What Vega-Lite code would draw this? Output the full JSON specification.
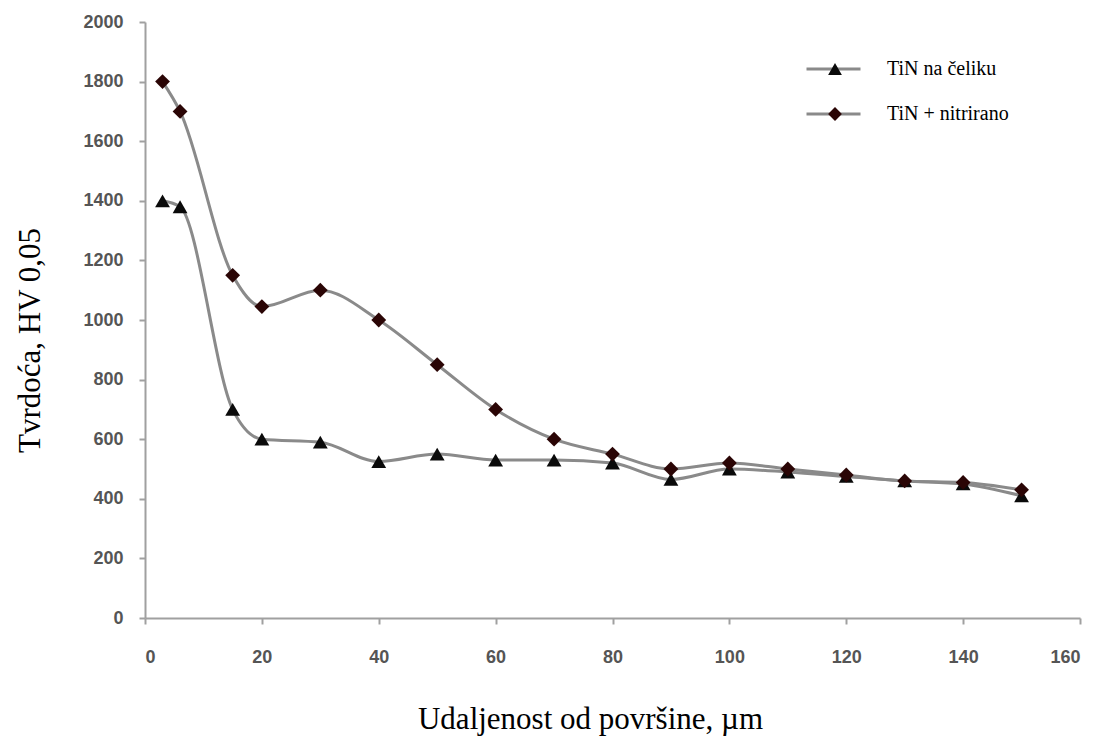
{
  "$schema": "https://vega.github.io/schema/vega-lite/v6.json",
  "width": 935,
  "height": 596,
  "autosize": {"type": "none"},
  "padding": {"left": 145, "top": 22, "right": 24, "bottom": 120},
  "background": "white",
  "config": {"view": {"stroke": null}},
  "data": {"values": [
    {"x": 3, "y": 1400, "s": "TiN na čeliku"},
    {"x": 6, "y": 1380, "s": "TiN na čeliku"},
    {"x": 15, "y": 700, "s": "TiN na čeliku"},
    {"x": 20, "y": 600, "s": "TiN na čeliku"},
    {"x": 30, "y": 590, "s": "TiN na čeliku"},
    {"x": 40, "y": 525, "s": "TiN na čeliku"},
    {"x": 50, "y": 550, "s": "TiN na čeliku"},
    {"x": 60, "y": 530, "s": "TiN na čeliku"},
    {"x": 70, "y": 530, "s": "TiN na čeliku"},
    {"x": 80, "y": 520, "s": "TiN na čeliku"},
    {"x": 90, "y": 465, "s": "TiN na čeliku"},
    {"x": 100, "y": 500, "s": "TiN na čeliku"},
    {"x": 110, "y": 490, "s": "TiN na čeliku"},
    {"x": 120, "y": 475, "s": "TiN na čeliku"},
    {"x": 130, "y": 460, "s": "TiN na čeliku"},
    {"x": 140, "y": 450, "s": "TiN na čeliku"},
    {"x": 150, "y": 410, "s": "TiN na čeliku"},
    {"x": 3, "y": 1800, "s": "TiN + nitrirano"},
    {"x": 6, "y": 1700, "s": "TiN + nitrirano"},
    {"x": 15, "y": 1150, "s": "TiN + nitrirano"},
    {"x": 20, "y": 1045, "s": "TiN + nitrirano"},
    {"x": 30, "y": 1100, "s": "TiN + nitrirano"},
    {"x": 40, "y": 1000, "s": "TiN + nitrirano"},
    {"x": 50, "y": 850, "s": "TiN + nitrirano"},
    {"x": 60, "y": 700, "s": "TiN + nitrirano"},
    {"x": 70, "y": 600, "s": "TiN + nitrirano"},
    {"x": 80, "y": 550, "s": "TiN + nitrirano"},
    {"x": 90, "y": 500, "s": "TiN + nitrirano"},
    {"x": 100, "y": 520, "s": "TiN + nitrirano"},
    {"x": 110, "y": 500, "s": "TiN + nitrirano"},
    {"x": 120, "y": 480, "s": "TiN + nitrirano"},
    {"x": 130, "y": 460, "s": "TiN + nitrirano"},
    {"x": 140, "y": 455, "s": "TiN + nitrirano"},
    {"x": 150, "y": 430, "s": "TiN + nitrirano"}
  ]},
  "encoding": {
    "x": {
      "field": "x", "type": "quantitative",
      "scale": {"domain": [0, 160], "nice": false, "zero": true},
      "axis": {
        "values": [0, 20, 40, 60, 80, 100, 120, 140, 160],
        "format": "d",
        "title": "Udaljenost od površine, µm",
        "titleFont": "Liberation Serif", "titleFontSize": 31, "titleFontWeight": "normal",
        "titleColor": "#000", "titlePadding": 38, "titleX": 445,
        "labelFont": "Liberation Sans", "labelFontSize": 18, "labelFontWeight": "bold",
        "labelColor": "#555", "labelPadding": 24,
        "domainColor": "#a0a0a0", "domainWidth": 2, "tickColor": "#a0a0a0", "tickWidth": 2, "tickSize": 6,
        "grid": false
      }
    },
    "y": {
      "field": "y", "type": "quantitative",
      "scale": {"domain": [0, 2000], "nice": false},
      "axis": {
        "values": [0, 200, 400, 600, 800, 1000, 1200, 1400, 1600, 1800, 2000],
        "format": "d",
        "title": "Tvrdoća, HV 0,05",
        "titleFont": "Liberation Serif", "titleFontSize": 31, "titleFontWeight": "normal",
        "titleColor": "#000", "titlePadding": 36, "titleY": 318,
        "labelFont": "Liberation Sans", "labelFontSize": 18, "labelFontWeight": "bold",
        "labelColor": "#555", "labelPadding": 16,
        "domainColor": "#a0a0a0", "domainWidth": 2, "tickColor": "#a0a0a0", "tickWidth": 2, "tickSize": 6,
        "grid": false
      }
    }
  },
  "layer": [
    {
      "mark": {"type": "line", "interpolate": "monotone", "strokeWidth": 3},
      "encoding": {
        "stroke": {
          "field": "s", "type": "nominal", "sort": "descending",
          "scale": {"range": ["#8a8a8a", "#8a8a8a"]},
          "legend": {
            "title": null, "orient": "none", "legendX": 660, "legendY": 37, "padding": 0,
            "labelFont": "Liberation Serif", "labelFontSize": 20, "labelColor": "#000",
            "symbolType": "stroke", "symbolSize": 2916, "symbolStrokeWidth": 3,
            "clipHeight": 20, "rowPadding": 25, "labelOffset": 25, "zindex": 0
          }
        }
      }
    },
    {
      "mark": {"type": "point", "filled": true, "size": 220, "opacity": 1},
      "encoding": {
        "shape": {
          "field": "s", "type": "nominal",
          "scale": {"domain": ["TiN na čeliku", "TiN + nitrirano"], "range": ["triangle-up", "diamond"]},
          "legend": {
            "title": null, "orient": "none", "legendX": 680, "legendY": 37, "padding": 0,
            "labelFont": "Liberation Serif", "labelFontSize": 20, "labelExpr": "''",
            "symbolSize": 190, "symbolStrokeWidth": 0,
            "clipHeight": 20, "rowPadding": 25, "labelOffset": 25, "zindex": 1
          }
        },
        "color": {
          "field": "s", "type": "nominal",
          "scale": {"domain": ["TiN na čeliku", "TiN + nitrirano"], "range": ["#0a0a0a", "#2a0505"]},
          "legend": {
            "title": null, "orient": "none", "legendX": 680, "legendY": 37, "padding": 0,
            "labelFont": "Liberation Serif", "labelFontSize": 20, "labelExpr": "''",
            "symbolSize": 190, "symbolStrokeWidth": 0,
            "clipHeight": 20, "rowPadding": 25, "labelOffset": 25, "zindex": 1
          }
        }
      }
    }
  ]
}
